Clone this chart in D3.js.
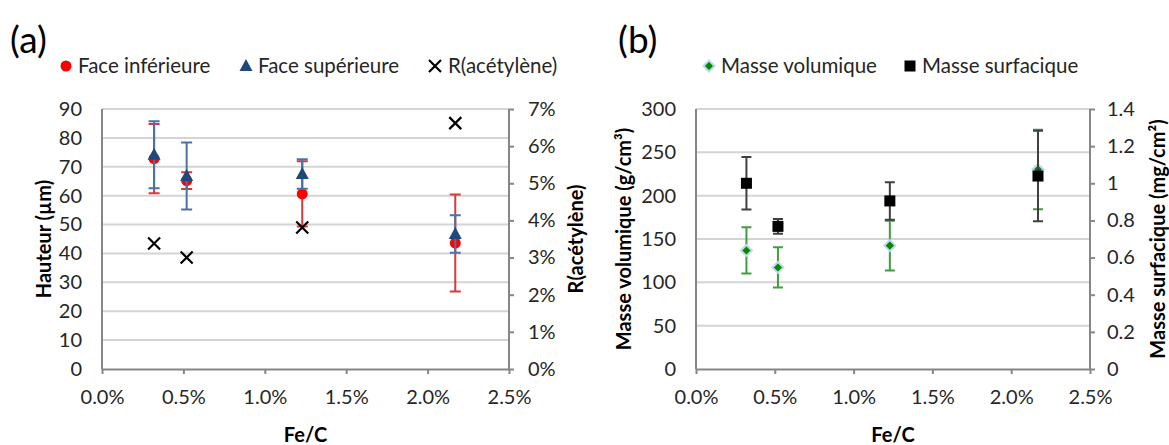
<!DOCTYPE html>
<html><head><meta charset="utf-8">
<script src="https://cdn.jsdelivr.net/npm/d3@7"></script>
<style>
body{margin:0;background:#fff}
svg{display:block}
text{font-family:Lato,"Open Sans",sans-serif}
</style>
</head><body>
<svg id="c" width="1169" height="445"></svg>
<script>
// ---- data ----
const feC = [0.32, 0.52, 1.23, 2.17];            // Fe/C (%)
const faceInf = [72.8, 65.2, 60.6, 43.6];        // Hauteur (µm)
const faceInfErr = [12.0, 2.9, 11.3, 16.8];
const faceSup = [74.2, 66.8, 67.5, 46.7];
const faceSupErr = [11.6, 11.6, 5.1, 6.5];
const rAcetylene = [3.38, 3.0, 3.81, 6.62];      // %
const masseVol = [136.8, 117.2, 142.4, 230.2];   // g/cm3
const masseVolErr = [26.7, 23.3, 28.8, 45.8];
const masseSurf = [1.0, 0.768, 0.905, 1.039];    // mg/cm2
const masseSurfErr = [0.141, 0.04, 0.101, 0.244];
const xTicks = [0, 0.5, 1.0, 1.5, 2.0, 2.5];
const hauteurTicks = [0,10,20,30,40,50,60,70,80,90];
const rTicks = [0,1,2,3,4,5,6,7];
const volTicks = [0,50,100,150,200,250,300];
const surfTicks = [0,0.2,0.4,0.6,0.8,1.0,1.2,1.4];

const svg = d3.select('#c');
const AXIS = '#868686', GRID = '#d4d4d4', TXT = '#262626';
const TICKFS = '20px', TITLEFS = '20px', LEGFS = '20.5px';

function panel(o){
  const g = svg.append('g');
  const x = d3.scaleLinear().domain([0,2.5]).range([o.x0,o.x1]);
  const yL = d3.scaleLinear().domain([0,o.lMax]).range([o.y1,o.y0]);
  const yR = d3.scaleLinear().domain([0,o.rMax]).range([o.y1,o.y0]);
  // grid
  g.append('g').selectAll('line').data(o.lTicks.filter(t=>t>0)).join('line')
    .attr('x1',o.x0).attr('x2',o.x1).attr('y1',d=>yL(d)).attr('y2',d=>yL(d))
    .attr('stroke',GRID).attr('stroke-width',2);
  // axes
  const ax = g.append('g').attr('transform',`translate(0,${o.y1})`)
    .call(d3.axisBottom(x).tickValues(xTicks).tickSize(5).tickSizeOuter(0).tickFormat(d=>d.toFixed(1)+'%'));
  const al = g.append('g').attr('transform',`translate(${o.x0},0)`)
    .call(d3.axisLeft(yL).tickValues(o.lTicks).tickSize(0).tickSizeOuter(0).tickPadding(20));
  const ar = g.append('g').attr('transform',`translate(${o.x1},0)`)
    .call(d3.axisRight(yR).tickValues(o.rTicks).tickSize(5).tickSizeOuter(0).tickPadding(o.rPad).tickFormat(o.rFmt));
  [ax,al,ar].forEach(a=>{
    a.select('.domain').attr('stroke',AXIS).attr('stroke-width',2);
    a.selectAll('.tick line').attr('stroke',AXIS).attr('stroke-width',2);
    a.selectAll('.tick text').attr('fill',TXT).style('font-size',TICKFS).attr('font-family',null);
  });
  ax.selectAll('.tick text').attr('y',21);
  al.select('.domain').attr('d',`M0,${o.y1}V${o.y0}`);
  ar.select('.domain').attr('d',`M0,${o.y1}V${o.y0}`);
  // titles
  g.append('text').attr('x',(o.x0+o.x1)/2).attr('y',435).attr('dy','0.35em')
    .attr('text-anchor','middle').style('font-size',TITLEFS).style('font-weight','bold').text('Fe/C');
  g.append('text').attr('transform',`translate(${o.lTitleX},${(o.y0+o.y1)/2}) rotate(-90)`)
    .attr('dy','0.35em').attr('text-anchor','middle').style('font-size',TITLEFS).style('font-weight','bold').text(o.lTitle);
  g.append('text').attr('transform',`translate(${o.rTitleX},${(o.y0+o.y1)/2}) rotate(-90)`)
    .attr('dy','0.35em').attr('text-anchor','middle').style('font-size',TITLEFS).style('font-weight','bold').text(o.rTitle);
  g.append('text').attr('x',o.tagX).attr('y',53).style('font-size','37px').attr('fill','#000').text(o.tag);
  return {g,x,yL,yR};
}

function errBars(g, xs, ys, es, x, y, color, cap){
  const d = xs.map((v,i)=>({x:x(v), y:ys[i], e:es[i]}));
  const eg = g.append('g').attr('stroke',color).attr('stroke-width',2).attr('fill','none');
  eg.selectAll('path').data(d).join('path')
    .attr('d',p=>{const t=y(p.y+p.e), b=y(p.y-p.e);
      return `M${p.x},${t}V${b}M${p.x-cap},${t}H${p.x+cap}M${p.x-cap},${b}H${p.x+cap}`;});
}
function marker(g, type, cx, cy){
  if(type==='circle') g.append('circle').attr('cx',cx).attr('cy',cy).attr('r',5.5).attr('fill','#ff0000');
  else if(type==='tri') g.append('path').attr('d',`M${cx},${cy-7}L${cx+6.5},${cy+5}L${cx-6.5},${cy+5}Z`).attr('fill','#1f497d');
  else if(type==='cross') g.append('path').attr('d',`M${cx-6},${cy-6}L${cx+6},${cy+6}M${cx-6},${cy+6}L${cx+6},${cy-6}`).attr('stroke','#000').attr('stroke-width',2.2).attr('fill','none');
  else if(type==='diamond') g.append('path').attr('d',`M${cx},${cy-5.5}L${cx+5.5},${cy}L${cx},${cy+5.5}L${cx-5.5},${cy}Z`).attr('fill','#008a00').attr('stroke','#c3d6ee').attr('stroke-width',2);
  else if(type==='square') g.append('rect').attr('x',cx-5.5).attr('y',cy-5.5).attr('width',11).attr('height',11).attr('fill','#000');
}
function series(g, type, xs, ys, x, y){
  xs.forEach((v,i)=>marker(g,type,x(v),y(ys[i])));
}
function legend(items, y){
  items.forEach(it=>{
    marker(svg, it.type, it.mx, y);
    svg.append('text').attr('x',it.tx).attr('y',y).attr('dy','0.35em').style('font-size',LEGFS).attr('fill',TXT).text(it.label);
  });
}

// ---- panel (a) ----
const A = panel({x0:102,x1:509,y0:109,y1:369,lMax:90,rMax:7,lTicks:hauteurTicks,rTicks:rTicks,
  rFmt:d=>d+'%', rPad:14, lTitle:'Hauteur (µm)', rTitle:'R(acétylène)', lTitleX:44, rTitleX:576, tag:'(a)', tagX:10});
errBars(A.g, feC, faceInf, faceInfErr, A.x, A.yL, '#d43c3c', 5.5);
series(A.g, 'circle', feC, faceInf, A.x, A.yL);
errBars(A.g, feC, faceSup, faceSupErr, A.x, A.yL, '#4a72a6', 5.5);
series(A.g, 'tri', feC, faceSup, A.x, A.yL);
series(A.g, 'cross', feC, rAcetylene, A.x, A.yR);
legend([{type:'circle',mx:66,tx:78,label:'Face inférieure'},
        {type:'tri',mx:246,tx:258,label:'Face supérieure'},
        {type:'cross',mx:435,tx:448,label:'R(acétylène)'}], 66);

// ---- panel (b) ----
const B = panel({x0:696,x1:1090,y0:109,y1:369,lMax:300,rMax:1.4,lTicks:volTicks,rTicks:surfTicks,
  rFmt:d=>String(Math.round(d*10)/10), rPad:12, lTitle:'Masse volumique (g/cm³)', rTitle:'Masse surfacique (mg/cm²)',
  lTitleX:624, rTitleX:1158, tag:'(b)', tagX:618});
errBars(B.g, feC, masseVol, masseVolErr, B.x, B.yL, '#3f9f3f', 5);
series(B.g, 'diamond', feC, masseVol, B.x, B.yL);
errBars(B.g, feC, masseSurf, masseSurfErr, B.x, B.yR, '#404040', 5);
series(B.g, 'square', feC, masseSurf, B.x, B.yR);
legend([{type:'diamond',mx:709,tx:721,label:'Masse volumique'},
        {type:'square',mx:910,tx:922,label:'Masse surfacique'}], 66);
</script>
</body></html>
